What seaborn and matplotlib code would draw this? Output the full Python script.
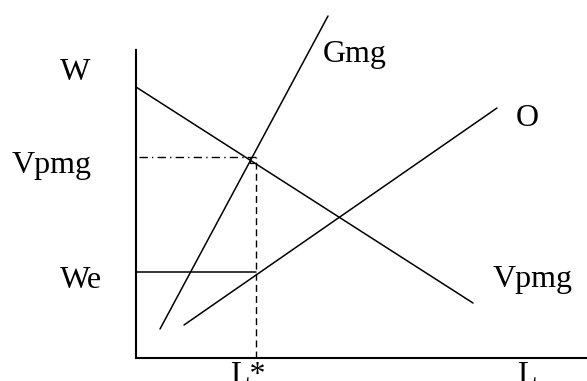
import matplotlib
matplotlib.use("Agg")
import matplotlib.pyplot as plt
import seaborn as sns
import pandas as pd

# curve endpoints (L, W)
vpmg_L = [0.0, 33.7]
vpmg_W = [27.1, 5.5]
gmg_L = [2.4, 19.2]
gmg_W = [2.9, 34.2]
oferta_L = [4.8, 36.1]
oferta_W = [3.3, 25.0]

L_star = 12.0
W_vpmg = 20.1
W_e = 8.6

sns.set_theme(style="white")
plt.rcParams["font.family"] = ["Liberation Serif", "DejaVu Serif"]

fig = plt.figure(figsize=(5.87, 3.81), dpi=100)
ax = fig.add_axes([136 / 587, 1 - 358 / 381, 1 - 136 / 587, 358 / 381])

curves = pd.DataFrame({
    "L": vpmg_L + gmg_L + oferta_L,
    "W": vpmg_W + gmg_W + oferta_W,
    "curva": ["Vpmg"] * 2 + ["Gmg"] * 2 + ["O"] * 2,
})
sns.lineplot(data=curves, x="L", y="W", units="curva", estimator=None,
             color="black", linewidth=1.1, ax=ax, legend=False)

# guides at the optimum
ax.plot([0.3, L_star], [W_vpmg, W_vpmg], color="black", lw=1.0, linestyle="-.", dashes=[6, 3, 1, 3])
ax.plot([L_star, L_star], [0, W_vpmg], color="black", lw=1.0, linestyle="--", dashes=[5, 3])
ax.plot([0, L_star], [W_e, W_e], color="black", lw=1.1)
ax.plot([L_star - 0.6, L_star - 0.6, L_star], [W_vpmg, W_vpmg - 0.6, W_vpmg - 0.6],
        color="black", lw=0.9)

ax.set_xlim(0, 45.1)
ax.set_ylim(0, 35.8)
ax.set_xticks([])
ax.set_yticks([])
ax.set_xlabel("")
ax.set_ylabel("")
for s in ["top", "right"]:
    ax.spines[s].set_visible(False)
for s in ["left", "bottom"]:
    ax.spines[s].set_color("black")
    ax.spines[s].set_linewidth(1.5)
ax.spines["left"].set_bounds(0, 30.8)

fs = 23
txt = dict(fontsize=fs, color="black", va="baseline", ha="left", clip_on=False)
ax.text(-7.6, 27.8, "W", **txt)
ax.text(-12.4, 18.5, "Vpmg", **txt)
ax.text(-7.6, 7.0, "We", **txt)
ax.text(18.7, 29.6, "Gmg", **txt)
ax.text(38.0, 23.2, "O", **txt)
ax.text(35.7, 7.1, "Vpmg", **txt)
ax.text(9.4, -2.5, "L*", **txt)
ax.text(38.1, -2.5, "L", **txt)

fig.savefig("out.png", dpi=100)
